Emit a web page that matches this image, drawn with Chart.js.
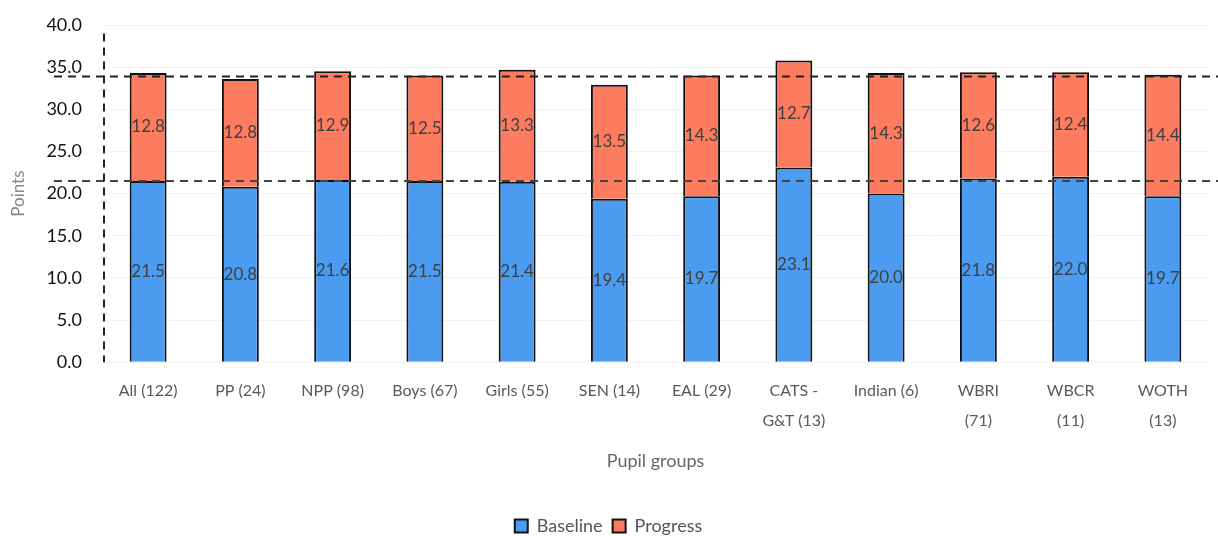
<!DOCTYPE html>
<html>
<head>
<meta charset="utf-8">
<script src="https://cdn.jsdelivr.net/npm/chart.js@4.4.1/dist/chart.umd.min.js"></script>
<style>
  html, body { margin: 0; padding: 0; background: #fff; }
  #wrap { width: 1218px; height: 536px; }
</style>
</head>
<body>
<div id="wrap"><canvas id="myChart" width="1218" height="536"></canvas></div>
<script>
const groupLabels = [
  'All (122)', 'PP (24)', 'NPP (98)', 'Boys (67)', 'Girls (55)', 'SEN (14)',
  'EAL (29)', ['CATS -', 'G&T (13)'], 'Indian (6)', ['WBRI', '(71)'], ['WBCR', '(11)'], ['WOTH', '(13)']
];
const baseline = [21.5, 20.8, 21.6, 21.5, 21.4, 19.4, 19.7, 23.1, 20.0, 21.8, 22.0, 19.7];
const progress = [12.8, 12.8, 12.9, 12.5, 13.3, 13.5, 14.3, 12.7, 14.3, 12.6, 12.4, 14.4];
const yTicks = [0, 5, 10, 15, 20, 25, 30, 35, 40];
const refLines = [33.9, 21.5];

const FONT = 'Lato, "Open Sans", sans-serif';

// dashed reference lines, drawn over the bars
const refLinePlugin = {
  id: 'refLines',
  afterDatasetsDraw(chart) {
    const ctx = chart.ctx;
    const area = chart.chartArea;
    const y = chart.scales.y;
    ctx.save();
    ctx.lineWidth = 2;
    ctx.setLineDash([8, 6]);
    refLines.forEach((v, i) => {
      ctx.strokeStyle = i == 0 ? '#222' : '#444';
      ctx.beginPath();
      ctx.moveTo(area.left - 48, y.getPixelForValue(v));
      ctx.lineTo(chart.width, y.getPixelForValue(v));
      ctx.stroke();
    });
    ctx.strokeStyle = '#222';
    ctx.beginPath();
    ctx.moveTo(area.left + 2, y.getPixelForValue(39.0));
    ctx.lineTo(area.left + 2, y.getPixelForValue(0));
    ctx.stroke();
    ctx.restore();
  }
};

// value labels in the middle of each segment
const valueLabelPlugin = {
  id: 'valueLabels',
  afterDatasetsDraw(chart) {
    const ctx = chart.ctx;
    ctx.save();
    ctx.font = '17px ' + FONT;
    ctx.fillStyle = '#404040';
    ctx.textAlign = 'center';
    ctx.textBaseline = 'middle';
    chart.data.datasets.forEach((ds, di) => {
      chart.getDatasetMeta(di).data.forEach((bar, i) => {
        const mid = (bar.y + bar.base) / 2;
        ctx.fillText(ds.data[i].toFixed(1), bar.x, mid);
      });
    });
    ctx.restore();
  }
};

const data = {
  labels: groupLabels,
  datasets: [
    {
      label: 'Baseline',
      data: baseline,
      backgroundColor: '#4b9cf0',
      borderColor: '#111',
      borderWidth: 2,
      borderSkipped: 'start',
      barPercentage: 0.4,
      categoryPercentage: 1
    },
    {
      label: 'Progress',
      data: progress,
      backgroundColor: '#fd7c5f',
      borderColor: '#111',
      borderWidth: 2,
      borderSkipped: 'start',
      barPercentage: 0.4,
      categoryPercentage: 1
    }
  ]
};

const config = {
  type: 'bar',
  data: data,
  options: {
    responsive: false,
    animation: false,
    layout: { padding: { left: 8, right: 9, top: 25, bottom: -9 } },
    scales: {
      x: {
        stacked: true,
        grid: { display: false },
        border: { display: false },
        ticks: { color: '#595959', font: { family: FONT, size: 16, lineHeight: 1.85 }, maxRotation: 0, autoSkip: false, padding: 6 },
        title: { display: true, text: 'Pupil groups', color: '#666', font: { family: FONT, size: 18 }, padding: { top: 9, bottom: 35 } }
      },
      y: {
        stacked: true,
        min: 0,
        max: 40,
        afterBuildTicks: (scale) => { scale.ticks = yTicks.map(v => ({ value: v })); },
        afterFit: (scale) => { scale.width = 94; scale.paddingTop = 0; },
        grid: { color: '#f2f2f2', drawTicks: false },
        border: { display: false },
        ticks: { color: '#111', font: { family: FONT, size: 18 }, padding: 20, callback: (v) => v.toFixed(1) },
        title: { display: true, text: 'Points', color: '#888', font: { family: FONT, size: 17 }, padding: { top: 0, bottom: 4 } }
      }
    },
    plugins: {
      legend: {
        position: 'bottom',
        labels: {
          color: '#555',
          font: { family: FONT, size: 18 },
          boxWidth: 13,
          boxHeight: 13,
          padding: 10,
          useBorderRadius: false
        }
      },
      tooltip: { enabled: false }
    }
  },
  plugins: [refLinePlugin, valueLabelPlugin]
};

new Chart(document.getElementById('myChart'), config);
</script>
</body>
</html>
